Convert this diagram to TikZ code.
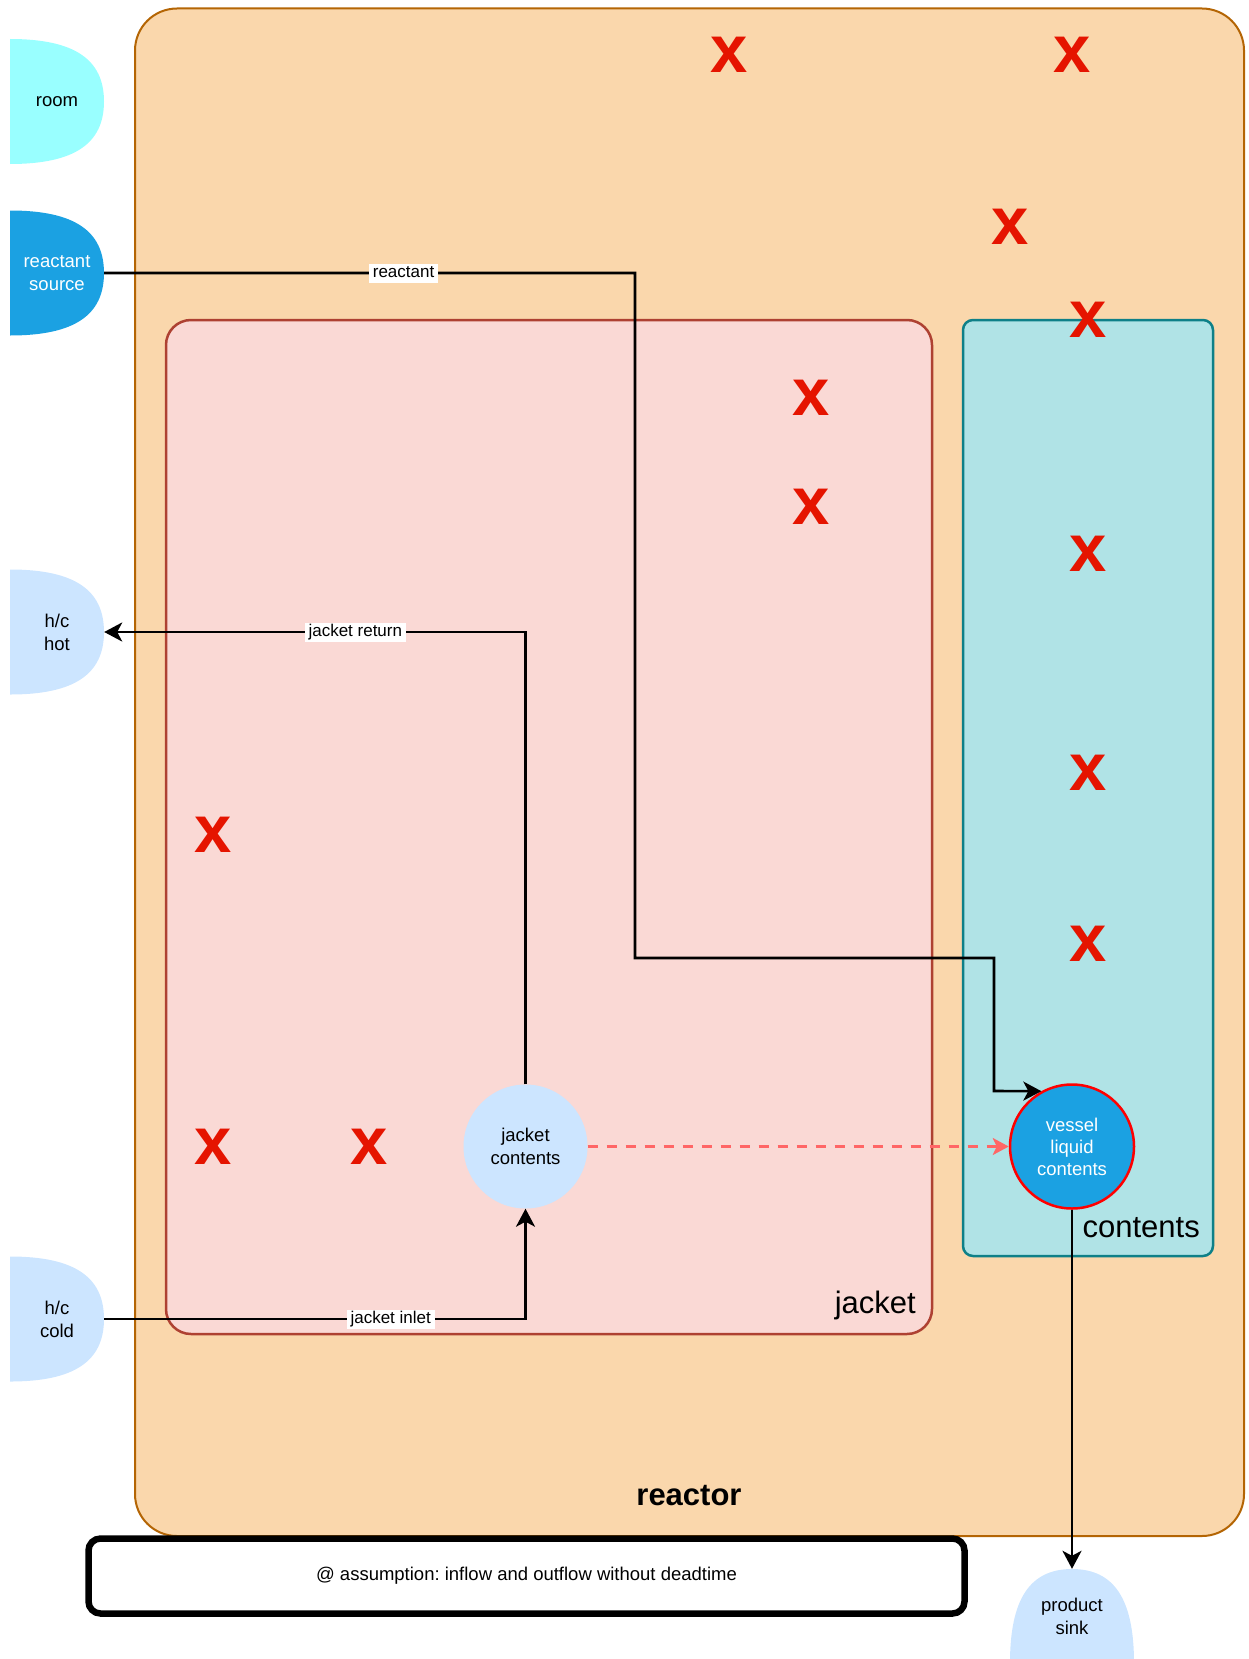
\documentclass[tikz,border=0pt]{standalone}
\usepackage{fontspec}
\setmainfont{Liberation Sans}
\frenchspacing
\usetikzlibrary{arrows.meta,calc}

\definecolor{reactorfill}{HTML}{FAD7AC}
\definecolor{reactorline}{HTML}{B46504}
\definecolor{jacketfill}{HTML}{FAD9D5}
\definecolor{jacketline}{HTML}{AE4132}
\definecolor{contentsfill}{HTML}{B0E3E6}
\definecolor{contentsline}{HTML}{0E8088}
\definecolor{roomfill}{HTML}{99FFFF}
\definecolor{feedblue}{HTML}{1BA1E2}
\definecolor{palefill}{HTML}{CCE5FF}
\definecolor{markred}{HTML}{E51400}
\definecolor{heatflow}{HTML}{FF6666}

% D shaped boundary, flat side left
\newcommand\portleft[1]{\fill[#1] (path picture bounding box.north west)
    .. controls ($(path picture bounding box.north west)!.68!(path picture bounding box.north east)$)
    and ($(path picture bounding box.east)!.68!(path picture bounding box.north east)$)
    .. (path picture bounding box.east)
    .. controls ($(path picture bounding box.east)!.68!(path picture bounding box.south east)$)
    and ($(path picture bounding box.south west)!.68!(path picture bounding box.south east)$)
    .. (path picture bounding box.south west) -- cycle;}
% same, flat side down
\newcommand\portdown[1]{\fill[#1] (path picture bounding box.south west)
    .. controls ($(path picture bounding box.south west)!.68!(path picture bounding box.north west)$)
    and ($(path picture bounding box.north)!.68!(path picture bounding box.north west)$)
    .. (path picture bounding box.north)
    .. controls ($(path picture bounding box.north)!.68!(path picture bounding box.north east)$)
    and ($(path picture bounding box.south east)!.68!(path picture bounding box.north east)$)
    .. (path picture bounding box.south east) -- cycle;}

\tikzset{
    txt/.style={font=\fontsize{18.5}{23}\selectfont, align=center},
    port/.style={txt, minimum width=94pt, minimum height=125pt, inner sep=0pt,
        path picture={\portleft{#1}}},
    sinkport/.style={txt, minimum width=124pt, minimum height=94pt, inner sep=0pt,
        path picture={\portdown{#1}}},
    vessel/.style={txt, circle, minimum size=124pt, inner sep=0pt},
    redx/.style={text=markred, font=\fontsize{67}{67}\selectfont\bfseries, inner sep=0pt},
    flow/.style={draw, line width=2.6pt, -{Stealth[length=18pt,width=19pt,inset=5pt]}},
    heat/.style={draw=heatflow, line width=2.6pt, dash pattern=on 10pt off 9pt,
        -{Stealth[length=16pt,width=17pt,inset=4pt]}},
    flowlabel/.style={fill=white, font=\fontsize{17}{20}\selectfont, inner xsep=4pt,
        inner ysep=1.5pt, text height=12.5pt, text depth=3.5pt},
    biglabel/.style={font=\fontsize{31}{31}\selectfont, inner sep=0pt}
}

\begin{document}
\begin{tikzpicture}[x=1pt, y=-1pt]
    \useasboundingbox (0,0) rectangle (1249,1659);

    % containers
    \draw[reactorline, fill=reactorfill, line width=2pt, rounded corners=42pt] (135,8.5) rectangle (1244,1536);
    \draw[jacketline, fill=jacketfill, line width=2.5pt, rounded corners=25pt] (166,320) rectangle (932,1334);
    \draw[contentsline, fill=contentsfill, line width=2.5pt, rounded corners=10pt] (963,320) rectangle (1213,1256);

    \node[biglabel, anchor=base east] (contentslbl) at (1200,1237) {contents};
    \node[biglabel, anchor=base east] (jacketlbl) at (916,1313) {jacket};
    \node[biglabel, anchor=base, font=\fontsize{31}{31}\selectfont\bfseries] (reactorlbl) at (689,1505) {reactor};

    \foreach \x/\y [count=\i] in {729/55, 1072/55, 1010/227, 1088/320, 811/398, 811/507,
        1088/554, 1088/773, 1088/944, 213/835, 213/1147, 369/1147}
        \node[redx] (x\i) at (\x,\y) {x};

    % boundaries
    \node[port=roomfill] (room) at (57,101.5) {room};
    \node[port=feedblue, text=white] (src) at (57,273) {reactant\\source};
    \node[port=palefill] (hot) at (57,632) {h/c\\hot};
    \node[port=palefill] (cold) at (57,1319) {h/c\\cold};
    \node[sinkport=palefill] (sink) at (1072,1616) {product\\sink};

    % lumps
    \node[vessel, fill=palefill] (jc) at (525.5,1146.5) {jacket\\contents};
    \node[vessel, fill=feedblue, draw=red, line width=2.5pt, text=white,
        font=\fontsize{18.5}{22}\selectfont] (vlc) at (1072,1146.5) {vessel\\liquid\\contents};

    \node[draw, line width=6.5pt, rounded corners=12pt, fill=white, txt,
        minimum width=876pt, minimum height=75pt] (note) at (526.5,1576)
        {@ assumption: inflow and outflow without deadtime};

    % flows
    \draw[flow] (src.east) -| node[flowlabel, pos=0.282] {reactant} (635,958) -| (994,1091) -- (vlc.119);
    \draw[flow] (jc.north) |- node[flowlabel, pos=0.702] {jacket return} (hot.east);
    \draw[flow] (cold.east) -| node[flowlabel, pos=0.34] {jacket inlet} (jc.south);
    \draw[heat] (jc.east) -- (vlc.west);
    \draw[flow] (vlc.south) -- (sink.north);
\end{tikzpicture}
\end{document}
